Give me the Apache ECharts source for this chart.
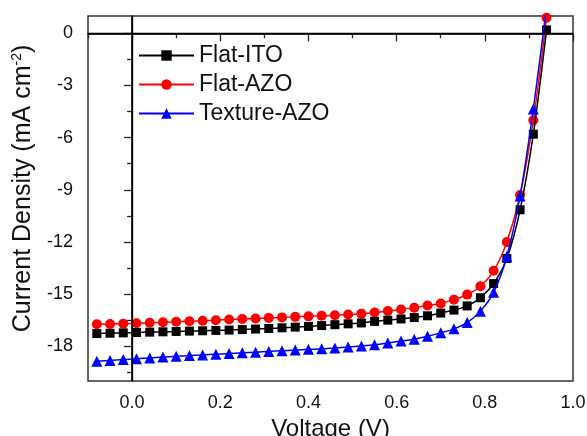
<!DOCTYPE html>
<html>
<head>
<meta charset="utf-8">
<script src="https://cdn.jsdelivr.net/npm/echarts@6/dist/echarts.min.js"></script>
<style>
  html, body { margin: 0; padding: 0; background: #fff; }
  #chart { width: 587px; height: 436px; }
</style>
</head>
<body>
<div id="chart"></div>
<script>
// voltage (V)
var voltage = [-0.08, -0.05, -0.02, 0.01, 0.04, 0.07, 0.10, 0.13, 0.16, 0.19, 0.22, 0.25,
  0.28, 0.31, 0.34, 0.37, 0.40, 0.43, 0.46, 0.49, 0.52, 0.55, 0.58, 0.61, 0.64, 0.67,
  0.70, 0.73, 0.76, 0.79, 0.82, 0.85, 0.88, 0.91, 0.94];

// current density (mA cm-2)
var flatITO = [-17.27, -17.25, -17.23, -17.21, -17.19, -17.17, -17.15, -17.13, -17.11, -17.09,
  -17.07, -17.04, -17.01, -16.98, -16.94, -16.90, -16.86, -16.81, -16.76, -16.71, -16.66,
  -16.57, -16.50, -16.43, -16.35, -16.25, -16.09, -15.92, -15.68, -15.21, -14.39, -12.95,
  -10.15, -5.80, 0.20];
var flatAZO = [-16.74, -16.72, -16.70, -16.68, -16.65, -16.62, -16.59, -16.56, -16.53, -16.50,
  -16.46, -16.43, -16.40, -16.37, -16.34, -16.31, -16.28, -16.25, -16.22, -16.17, -16.13,
  -16.06, -15.97, -15.89, -15.78, -15.66, -15.54, -15.32, -15.03, -14.55, -13.66, -12.00,
  -9.30, -5.00, 0.90];
var textureAZO = [-18.87, -18.82, -18.77, -18.72, -18.67, -18.62, -18.58, -18.54, -18.50, -18.46,
  -18.42, -18.38, -18.34, -18.30, -18.26, -18.22, -18.18, -18.15, -18.10, -18.04, -17.98,
  -17.91, -17.81, -17.70, -17.60, -17.43, -17.23, -17.00, -16.64, -15.98, -14.90, -12.82,
  -9.35, -4.35, 1.50];

// tick positions
var xMajor = [0, 0.2, 0.4, 0.6, 0.8, 1.0];
var xMinor = [-0.1, 0.1, 0.3, 0.5, 0.7, 0.9];
var yMajor = [-18, -15, -12, -9, -6, -3, 0];
var yMinor = [-19.5, -16.5, -13.5, -10.5, -7.5, -4.5, -1.5];

function pairs(ys) {
  return voltage.map(function (v, i) { return [v, ys[i]]; });
}

var font = 'Liberation Sans, Arial, sans-serif';
var myChart = echarts.init(document.getElementById('chart'));

var baseX = {
  type: 'value', min: -0.1, max: 1.0, position: 'bottom',
  splitLine: { show: false },
  axisLine: { lineStyle: { color: '#222', width: 1.5 } }
};
var baseY = {
  type: 'value', min: -20, max: 1, position: 'left',
  splitLine: { show: false },
  axisLine: { lineStyle: { color: '#222', width: 1.5 } }
};

var option = {
  backgroundColor: '#ffffff',
  animation: false,
  textStyle: { fontFamily: font },
  grid: {
    left: 88, top: 16, right: 14, bottom: 55,
    outerBoundsMode: 'none', containLabel: false,
    show: true, borderColor: '#333', borderWidth: 1.5
  },
  legend: {
    orient: 'vertical',
    left: 133, top: 39,
    itemWidth: 55, itemHeight: 13, itemGap: 6,
    textStyle: { fontFamily: font, fontSize: 23, color: '#111' },
    data: ['Flat-ITO', 'Flat-AZO', 'Texture-AZO']
  },
  xAxis: [
    Object.assign({}, baseX, {
      name: 'Voltage (V)', nameLocation: 'middle', nameGap: 30,
      nameTextStyle: { fontFamily: font, fontSize: 24, color: '#111' },
      axisTick: { length: 8, lineStyle: { color: '#222', width: 1.3 }, customValues: xMajor },
      axisLabel: {
        customValues: xMajor, margin: 13, fontSize: 18, color: '#111', fontFamily: font,
        formatter: function (v) { return v.toFixed(1); }
      }
    }),
    Object.assign({}, baseX, {
      axisTick: { length: 5, lineStyle: { color: '#222', width: 1.3 }, customValues: xMinor },
      axisLabel: { show: false }
    })
  ],
  yAxis: [
    Object.assign({}, baseY, {
      name: 'Current Density (mA cm{sup|-2})', nameLocation: 'middle', nameGap: 41, nameRotate: 90,
      nameTextStyle: {
        fontFamily: font, fontSize: 25, color: '#111', padding: [0, 0, 0, 20],
        rich: { sup: { fontFamily: font, fontSize: 14, color: '#111', verticalAlign: 'top', padding: [0, 0, 12, 0] } }
      },
      axisTick: { length: 8, lineStyle: { color: '#222', width: 1.3 }, customValues: yMajor },
      axisLabel: { customValues: yMajor, margin: 15, fontSize: 18, color: '#111', fontFamily: font }
    }),
    Object.assign({}, baseY, {
      axisTick: { length: 5, lineStyle: { color: '#222', width: 1.3 }, customValues: yMinor },
      axisLabel: { show: false }
    })
  ],
  series: [
    {
      name: 'Flat-ITO', type: 'line', smooth: 0.3,
      symbol: 'rect', symbolSize: 9,
      itemStyle: { color: '#000000' },
      lineStyle: { color: '#000000', width: 1.5 },
      data: pairs(flatITO),
      markLine: {
        silent: true, symbol: ['none', 'none'], label: { show: false },
        lineStyle: { color: '#000', width: 1.3, type: 'solid' },
        data: [{ xAxis: 0 }, { yAxis: 0 }]
      },
      z: 3
    },
    {
      name: 'Flat-AZO', type: 'line', smooth: 0.3,
      symbol: 'circle', symbolSize: 10,
      itemStyle: { color: '#ff0000' },
      lineStyle: { color: '#ff0000', width: 1.5 },
      data: pairs(flatAZO),
      z: 2
    },
    {
      name: 'Texture-AZO', type: 'line', smooth: 0.3,
      symbol: 'triangle', symbolSize: 11,
      itemStyle: { color: '#0000ff' },
      lineStyle: { color: '#0000ff', width: 1.5 },
      data: pairs(textureAZO),
      z: 4
    }
  ]
};
myChart.setOption(option);
</script>
</body>
</html>
